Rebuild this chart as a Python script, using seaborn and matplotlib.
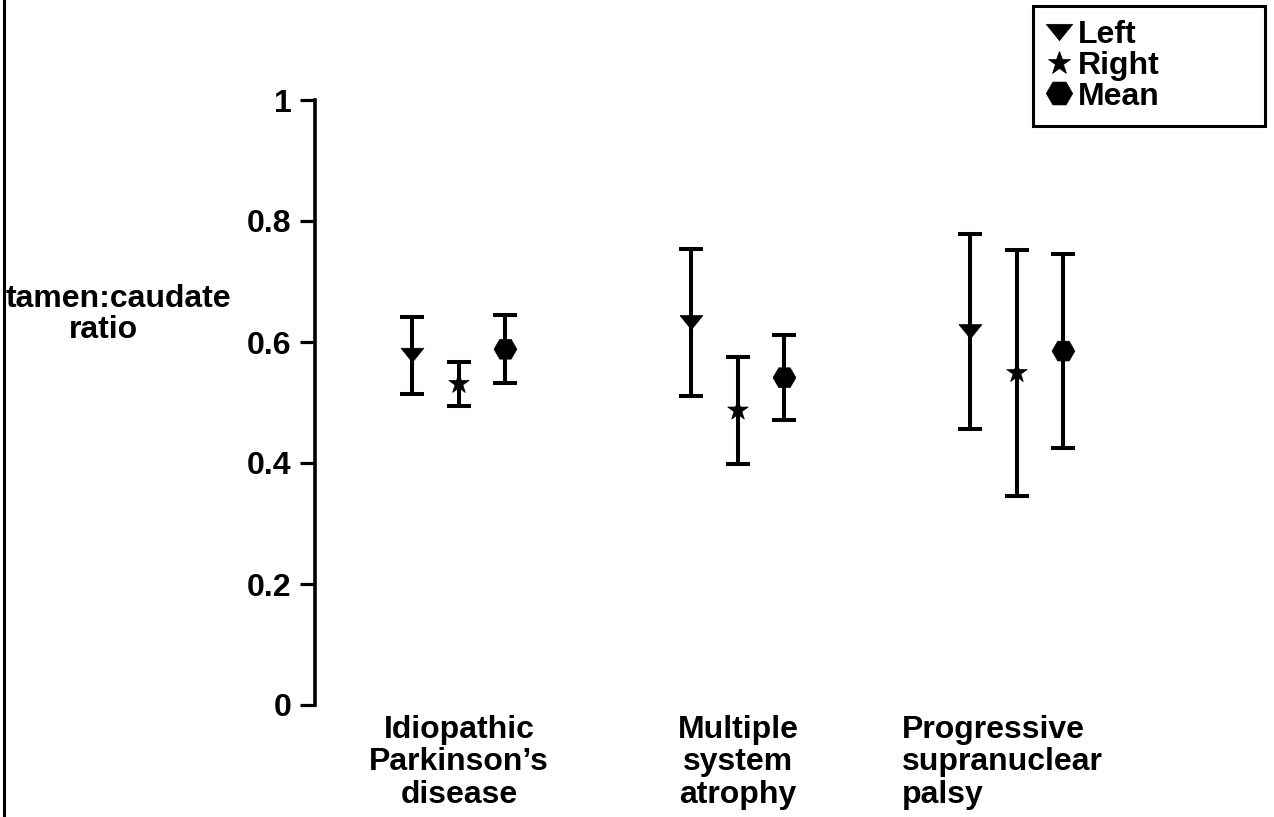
import numpy as np
import pandas as pd
import matplotlib
matplotlib.use("Agg")
import matplotlib.pyplot as plt
import matplotlib.transforms as mtransforms
from matplotlib.lines import Line2D
import seaborn as sns

# ---- data ----
groups = ["Idiopathic\nParkinson\u2019s\ndisease",
          "Multiple\nsystem\natrophy",
          "Progressive\nsupranuclear\npalsy"]
series = ["Left", "Right", "Mean"]
left_vals = [0.578, 0.632, 0.617]
left_err = [0.064, 0.122, 0.161]
right_vals = [0.531, 0.487, 0.549]
right_err = [0.036, 0.089, 0.203]
mean_vals = [0.588, 0.541, 0.585]
mean_err = [0.056, 0.070, 0.161]
yticks = [0, 0.2, 0.4, 0.6, 0.8, 1]
ytick_labels = ["0", "0.2", "0.4", "0.6", "0.8", "1"]
# the reference's y-axis title is clipped at the page edge: its visible part
ylabel_line1 = "tamen:caudate"
ylabel_line2 = "ratio"

vals = {"Left": left_vals, "Right": right_vals, "Mean": mean_vals}
errs = {"Left": left_err, "Right": right_err, "Mean": mean_err}
offsets = {"Left": -1 / 6, "Right": 0.0, "Mean": 1 / 6}

rows = []
for s in series:
    for gi, g in enumerate(groups):
        rows.append({"group": g, "gi": gi, "series": s,
                     "x": gi + offsets[s], "y": vals[s][gi], "err": errs[s][gi]})
df = pd.DataFrame(rows)

sns.set_style("white")
plt.rcParams["font.family"] = ["Liberation Sans", "DejaVu Sans"]
plt.rcParams["font.weight"] = "bold"
for k in ["text.color", "axes.labelcolor", "xtick.color", "ytick.color",
          "axes.edgecolor"]:
    plt.rcParams[k] = "black"

FS = 23

fig = plt.figure(figsize=(12.74, 8.17), dpi=100)
W, H = 1274, 817
ax = fig.add_axes([315 / W, (H - 705) / H, (1200 - 315) / W, (705 - 100) / H])

# error bars
for s in series:
    sub = df[df["series"] == s]
    ax.errorbar(sub["x"], sub["y"], yerr=sub["err"], fmt="none",
                ecolor="black", elinewidth=2.9, capsize=8.5, capthick=2.9,
                zorder=2)

tri = np.array([[-1.0, 0.62], [1.0, 0.62], [0.0, -0.62], [-1.0, 0.62]])
markers = {"Left": tri, "Right": "*", "Mean": "H"}
sizes = {"Left": 270, "Right": 240, "Mean": 270}
palette = {"Left": "black", "Right": "black", "Mean": "black"}

sns.scatterplot(data=df, x="x", y="y", hue="series", style="series",
                size="series", markers=markers, sizes=sizes, palette=palette,
                hue_order=series, style_order=series, size_order=series,
                edgecolor="black", linewidth=0.5, ax=ax, zorder=3, legend=True)

ax.set_xlim(-0.516, 2.656)
ax.set_ylim(0, 1)

ax.set_yticks(yticks)
ax.set_yticklabels(ytick_labels, fontsize=FS, fontweight="bold")
ax.tick_params(axis="y", direction="out", length=11, width=2.3, pad=6,
               colors="black", left=True)

ax.set_xticks(range(len(groups)))
ax.set_xticklabels(groups, fontsize=FS, fontweight="bold", linespacing=1.12,
                   va="top", color="black")
ax.tick_params(axis="x", length=0, pad=7)
labs = ax.get_xticklabels()
labs[2].set_ha("left")
labs[2].set_multialignment("left")
labs[2].set_transform(labs[2].get_transform() +
                      mtransforms.ScaledTranslation(-115 / 100, 0, fig.dpi_scale_trans))

for side in ["top", "right", "bottom"]:
    ax.spines[side].set_visible(False)
ax.spines["left"].set_linewidth(2.6)
ax.spines["left"].set_color("black")
ax.set_xlabel("")
ax.set_ylabel("")

fig.text(6 / W, 1 - 299 / H, ylabel_line1, ha="left", va="center",
         fontsize=FS, fontweight="bold")
fig.text(103 / W, 1 - 330 / H, ylabel_line2, ha="center", va="center",
         fontsize=FS, fontweight="bold")

# legend
old = ax.get_legend()
handles = old.legend_handles
labels = [t.get_text() for t in old.get_texts()]
old.remove()
hs = {"Left": 19, "Right": 17, "Mean": 19}
for h, lab in zip(handles, labels):
    h.set_color("black")
    h.set_markeredgecolor("black")
    h.set_markersize(hs.get(lab, 18))
leg = fig.legend(handles, labels, loc="upper left",
                 bbox_to_anchor=(1033 / W, 1 - 133 / H, (1265 - 1033) / W, (133 - 6) / H),
                 mode="expand", frameon=True, fancybox=False, framealpha=1,
                 edgecolor="black", prop={"size": FS, "weight": "bold"},
                 handlelength=0.75, handletextpad=0.2, labelspacing=0.02,
                 borderpad=0.45, borderaxespad=0)
leg.get_frame().set_linewidth(2.2)

# scanned-page border on the left
fig.add_artist(Line2D([3.5 / W, 3.5 / W], [0, 1], transform=fig.transFigure,
                      color="black", lw=2.2))

fig.savefig("out.png", dpi=100)
